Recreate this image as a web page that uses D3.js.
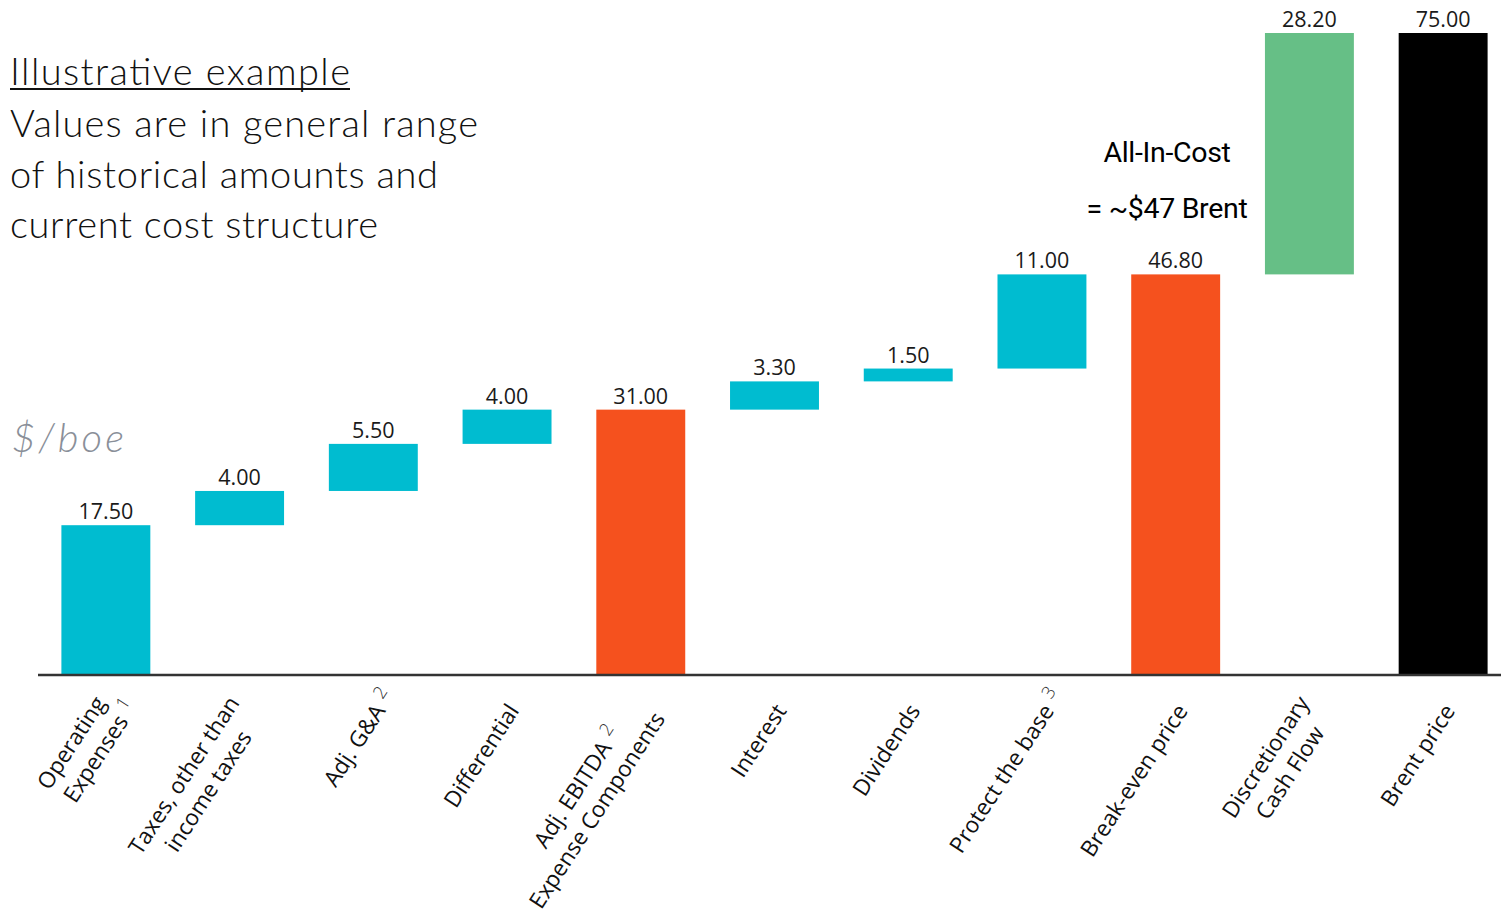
<!DOCTYPE html>
<html><head><meta charset="utf-8">
<script src="https://cdn.jsdelivr.net/npm/d3@7"></script>
<style>body{margin:0;background:#fff}svg{display:block}</style>
</head><body>
<svg id="c" width="1501" height="920"></svg>
<script>
const categories = ["Operating\nExpenses^1","Taxes, other than\nincome taxes","Adj. G&A^2","Differential","Adj. EBITDA^2\nExpense Components","Interest","Dividends","Protect the base^3","Break-even price","Discretionary\nCash Flow","Brent price"];
const values = [17.5, 4.0, 5.5, 4.0, 31.0, 3.3, 1.5, 11.0, 46.8, 28.2, 75.0];
const kinds = ["step","step","step","step","total","step","step","step","total","step","total"];
const groups = ["cost","cost","cost","cost","subtotal","cost","cost","cost","subtotal","cash","price"];
const valueLabels = ["17.50","4.00","5.50","4.00","31.00","3.30","1.50","11.00","46.80","28.20","75.00"];
const colorOf = {cost:"#00BCD0", subtotal:"#F5511E", cash:"#66BF86", price:"#000000"};
const titleLines = ["Values are in general range","of historical amounts and","current cost structure"];

const svg = d3.select("#c");
const x = d3.scaleBand().domain(d3.range(categories.length)).range([39,1510]).paddingInner(0.335).paddingOuter(0.1675);
const y = d3.scaleLinear().domain([0,75]).range([675,33]);

let run = 0;
const bars = values.map((v,i)=>{
  let s,e;
  if(kinds[i]==="total"){s=0;e=v;run=v;} else {s=run;e=run+v;run=e;}
  return {i,s,e,v,label:valueLabels[i],g:groups[i]};
});

svg.append("g").selectAll("rect").data(bars).join("rect")
  .attr("x",d=>x(d.i)).attr("width",x.bandwidth())
  .attr("y",d=>y(Math.max(d.s,d.e))).attr("height",d=>Math.abs(y(d.s)-y(d.e)))
  .attr("fill",d=>colorOf[d.g]);

svg.append("g").selectAll("text").data(bars).join("text")
  .attr("x",d=>x(d.i)+x.bandwidth()/2).attr("y",d=>y(Math.max(d.s,d.e))-6)
  .attr("text-anchor","middle").attr("font-family","Open Sans").attr("font-size",21.5).attr("fill","#1a1a1a")
  .text(d=>d.label);

const ax = svg.append("g").attr("transform","translate(0,675)")
  .call(d3.axisBottom(x).tickSize(0).tickFormat(""));
ax.select(".domain").attr("stroke","#333").attr("stroke-width",2.5).attr("d","M38,0H1501");

const lh = 29;
ax.selectAll(".tick").each(function(i){
  const lines = categories[i].split("\n");
  const n = lines.length;
  const g = d3.select(this).append("g").attr("transform",`translate(7,32) rotate(-57)`);
  const items = lines.map((ln,k)=>{
    const parts = ln.split("^");
    const t = g.append("text").attr("text-anchor","start").attr("font-family","Open Sans").attr("font-size",22.5)
      .attr("fill","#111").attr("y",(k-(n-1)/2)*lh+7);
    const main = t.append("tspan").text(parts[0]);
    if(parts[1]){
      t.append("tspan").attr("font-size",18).attr("font-weight",300).attr("fill","#333").attr("dx",7).attr("dy",-9).text(parts[1]);
    }
    return {t, w: main.node().getComputedTextLength()};
  });
  const mw = d3.max(items, d=>d.w);
  items.forEach(d=>d.t.attr("x",-mw/2 - d.w/2));
});

svg.append("text").attr("x",10).attr("y",85).attr("font-family","Lato").attr("font-weight",300)
  .attr("font-size",38).attr("fill","#111")
  .attr("textLength",340).attr("lengthAdjust","spacing").text("Illustrative example");
svg.append("line").attr("x1",10).attr("x2",350).attr("y1",89).attr("y2",89).attr("stroke","#111").attr("stroke-width",2);
svg.append("g").selectAll("text").data(titleLines).join("text")
  .attr("x",10).attr("y",(d,i)=>137+i*50.5).attr("font-family","Lato").attr("font-weight",300)
  .attr("font-size",38).attr("fill","#111")
  .attr("textLength",(d,i)=>[468,428,368][i]).attr("lengthAdjust","spacing").text(d=>d);

svg.append("text").attr("x",12).attr("y",452).attr("font-family","Lato").attr("font-weight",300)
  .attr("font-style","italic").attr("font-size",40).attr("fill","#8a8f99")
  .attr("textLength",112).attr("lengthAdjust","spacing").text("$/boe");

svg.append("text").attr("x",1167).attr("y",162).attr("text-anchor","middle").attr("font-family","Roboto")
  .attr("font-size",28.5).attr("letter-spacing",-0.3).attr("fill","#000").text("All-In-Cost");
svg.append("text").attr("x",1167).attr("y",218).attr("text-anchor","middle").attr("font-family","Roboto")
  .attr("font-size",28.5).attr("letter-spacing",-0.3).attr("fill","#000").text("= ~$47 Brent");
</script>
</body></html>
